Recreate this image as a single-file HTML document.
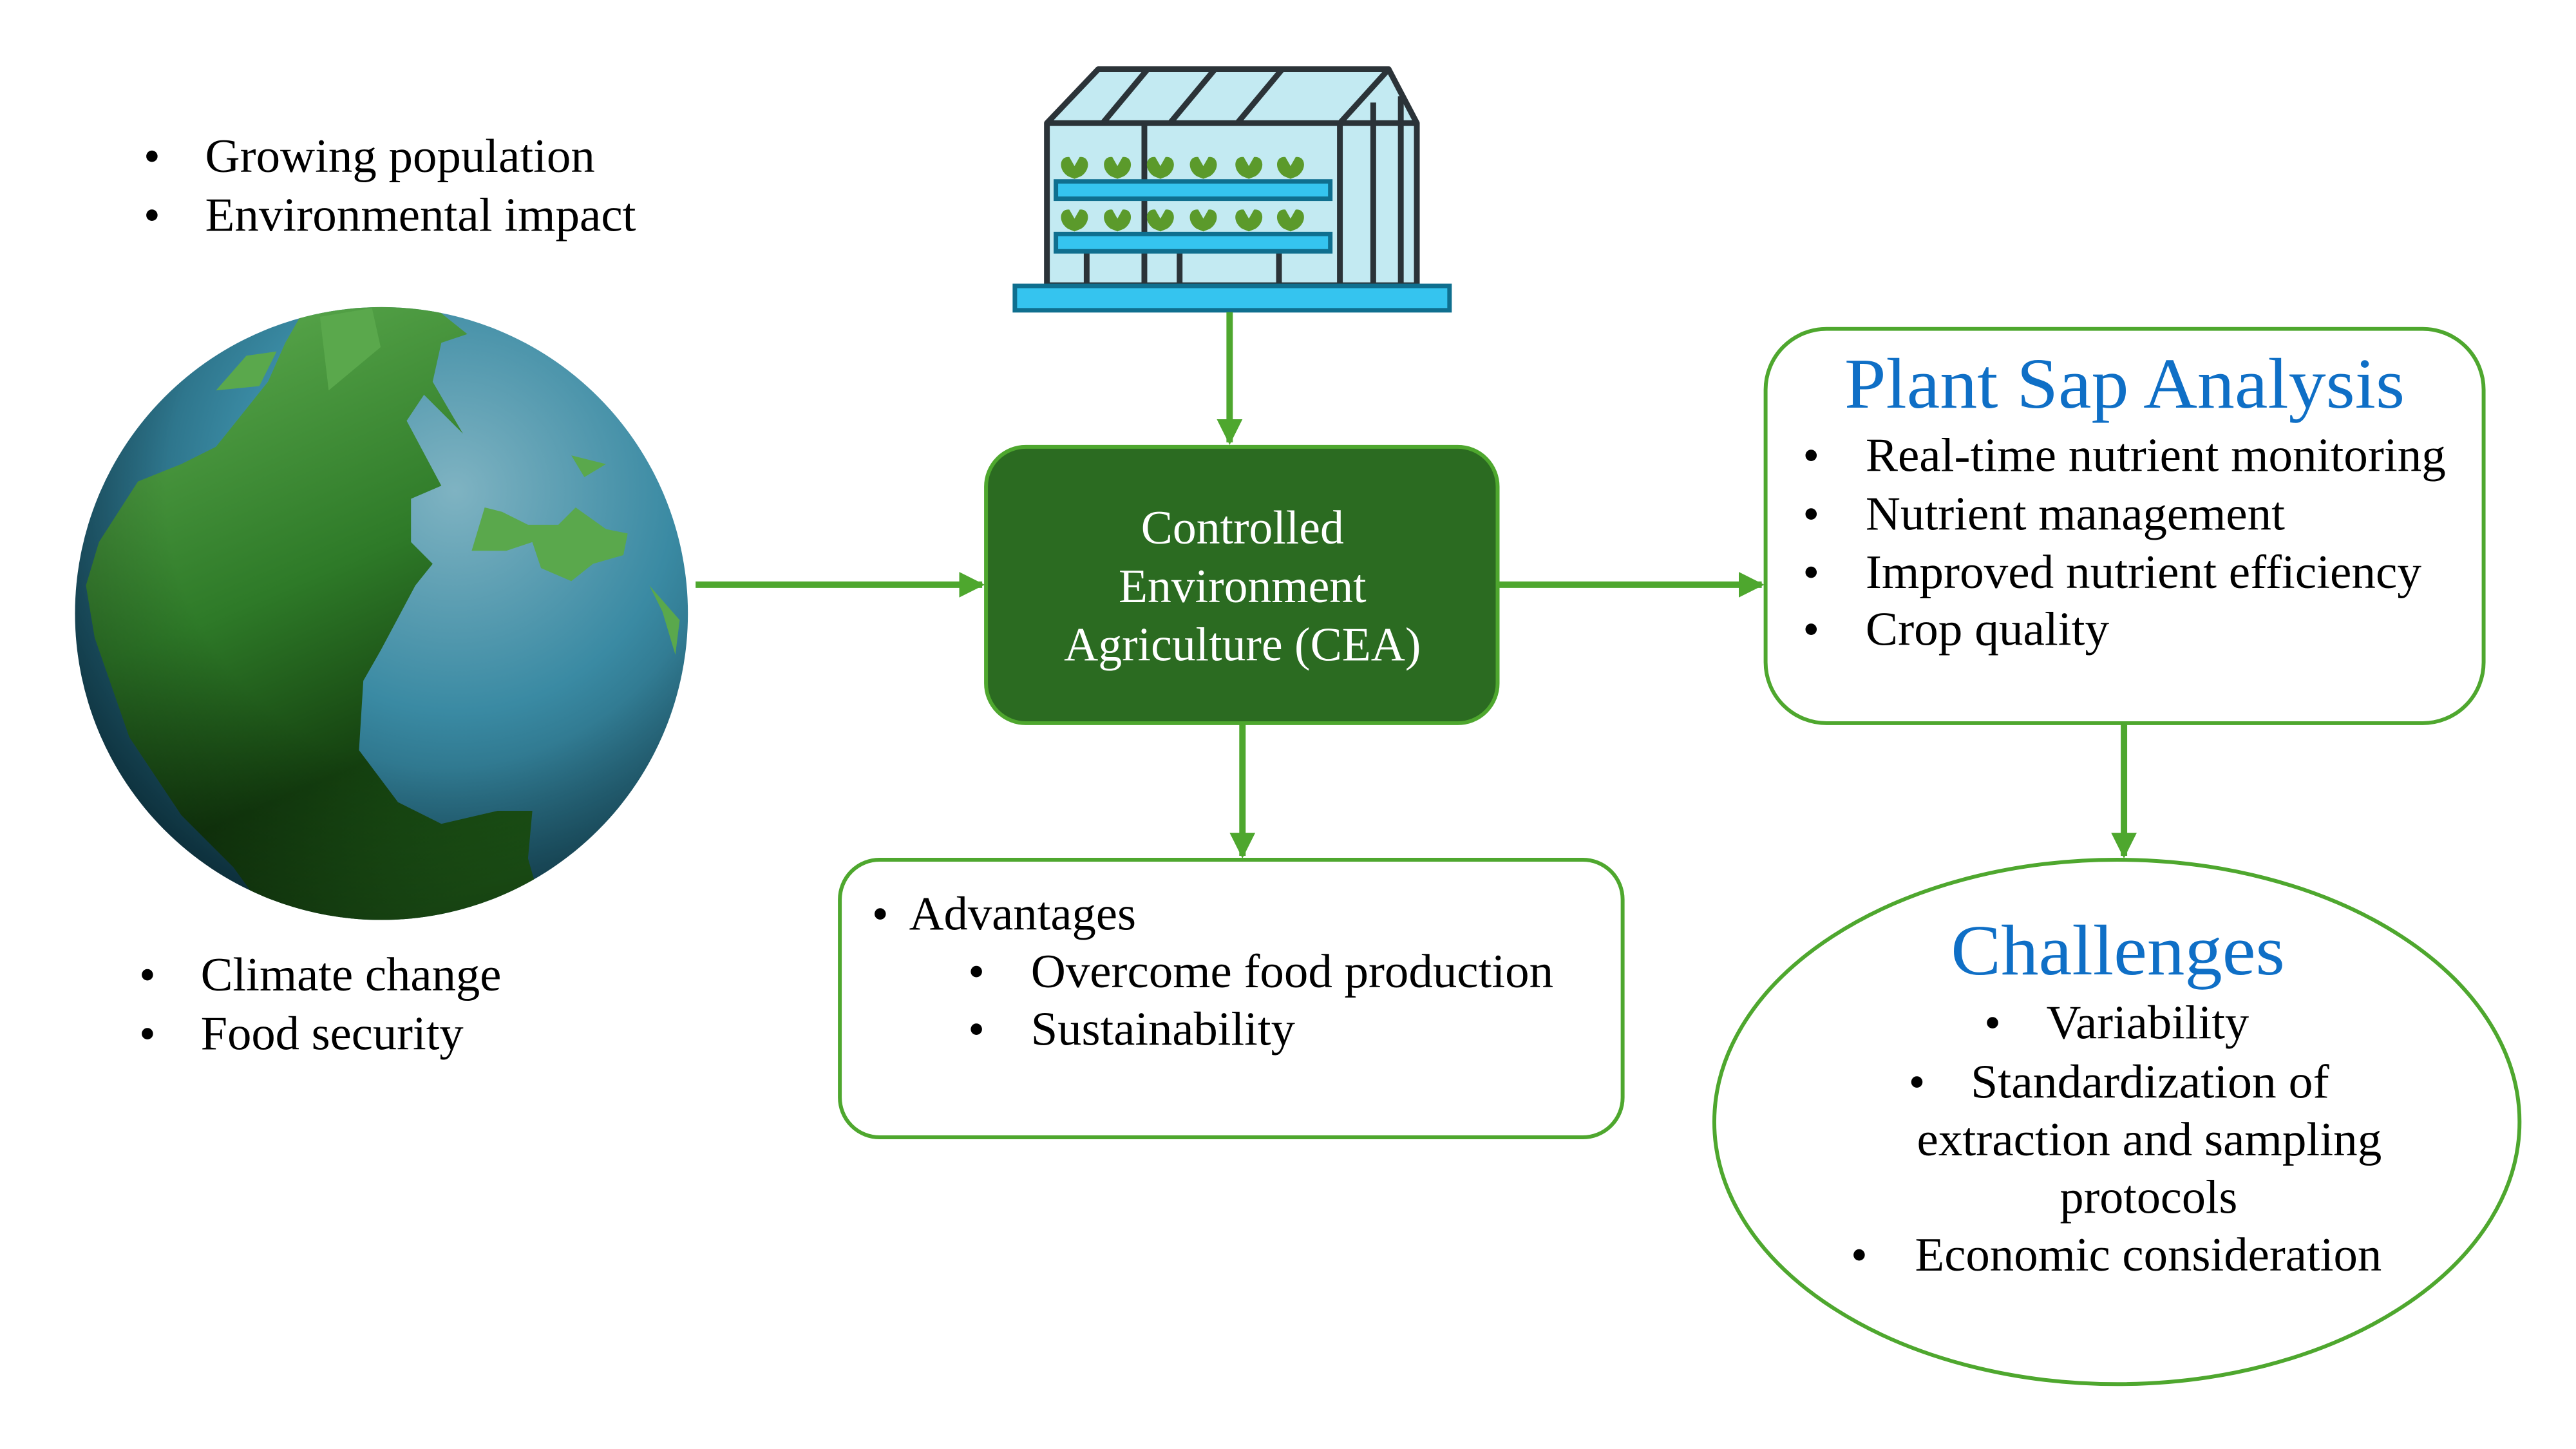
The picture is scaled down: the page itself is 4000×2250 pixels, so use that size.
<!DOCTYPE html>
<html><head><meta charset="utf-8"><style>html,body{margin:0;padding:0;background:#fff}svg{display:block}text{font-family:"Liberation Serif",serif}</style></head><body>
<svg width="4000" height="2250" viewBox="0 0 4000 2250" xmlns="http://www.w3.org/2000/svg">
<defs>
<radialGradient id="ocean" cx="0.62" cy="0.3" r="0.8"><stop offset="0" stop-color="#7fb3c2"/><stop offset="0.45" stop-color="#3a8aa3"/><stop offset="1" stop-color="#0c3a4a"/></radialGradient>
<linearGradient id="land" x1="0.3" y1="0" x2="0.6" y2="1"><stop offset="0" stop-color="#5aa84c"/><stop offset="0.45" stop-color="#2e7a28"/><stop offset="0.75" stop-color="#14400f"/><stop offset="1" stop-color="#1f5c18"/></linearGradient>
<radialGradient id="shade" cx="0.6" cy="0.3" r="0.75"><stop offset="0.6" stop-color="#000" stop-opacity="0"/><stop offset="1" stop-color="#000" stop-opacity="0.35"/></radialGradient>
<clipPath id="gc"><circle cx="595" cy="957" r="478"/></clipPath>
<marker id="ah" markerWidth="4" markerHeight="4" refX="3.6" refY="2" orient="auto" markerUnits="strokeWidth"><path d="M0,0 L4,2 L0,4 Z" fill="#4ea72e"/></marker>
</defs>
<g transform="scale(0.9955)">
<!-- globe -->
<circle cx="595" cy="957" r="478" fill="url(#ocean)"/>
<g clip-path="url(#gc)">
<g transform="translate(80,440) scale(0.676)">
<path d="M580,70 L760,40 L860,40 L960,120 L900,140 L880,230 L950,350 L860,260 L820,320 L900,470 L830,500 L830,600 L880,650 L840,700 L760,850 L720,920 L710,1080 L800,1200 L900,1250 L1030,1220 L1110,1220 L1100,1330 L1120,1400 L1000,1480 L800,1520 L500,1460 L420,1350 L300,1230 L180,1050 L100,820 L80,700 L110,600 L200,460 L300,420 L380,380 L420,330 L500,230 L540,140 Z" fill="url(#land)"/>
<path d="M380,250 L450,170 L520,160 L480,240 Z M620,80 L740,60 L760,150 L640,250 Z" fill="#5aa84c"/>
<path d="M970,620 L1000,520 L1040,530 L1100,560 L1170,560 L1210,520 L1280,570 L1330,580 L1320,630 L1250,650 L1200,690 L1130,660 L1110,600 L1050,620 Z M1200,400 L1280,420 L1230,450 Z M1380,700 L1450,780 L1440,860 L1410,760 Z" fill="#5aa84c"/>
</g>
</g>
<circle cx="595" cy="957" r="478" fill="url(#shade)"/>

<!-- left bullets -->
<g font-size="74" fill="#000">
<text x="224" y="268">•</text><text x="320" y="268" textLength="608" lengthAdjust="spacingAndGlyphs">Growing population</text>
<text x="224" y="360">•</text><text x="320" y="360" textLength="672" lengthAdjust="spacingAndGlyphs">Environmental impact</text>
<text x="217" y="1545">•</text><text x="313" y="1545" textLength="469" lengthAdjust="spacingAndGlyphs">Climate change</text>
<text x="217" y="1637">•</text><text x="313" y="1637" textLength="410" lengthAdjust="spacingAndGlyphs">Food security</text>
</g>

<!-- greenhouse -->
<g stroke="#2b3338" stroke-width="9" fill="#bfe8f0" stroke-linejoin="round">
<path d="M1633,445 L1633,192 L1713,108 L2166,108 L2210,192 L2210,445 Z" fill="#c3eaf2"/>
<line x1="1633" y1="192" x2="2210" y2="192"/>
<line x1="1790" y1="108" x2="1720" y2="192" /><line x1="1895" y1="108" x2="1825" y2="192"/><line x1="2000" y1="108" x2="1930" y2="192"/><line x1="2166" y1="108" x2="2090" y2="192"/>
<line x1="2090" y1="192" x2="2090" y2="445"/><line x1="2142" y1="160" x2="2142" y2="445"/><line x1="2185" y1="150" x2="2185" y2="445"/>
<line x1="1785" y1="192" x2="1785" y2="445"/>
<line x1="1695" y1="390" x2="1695" y2="445"/><line x1="1840" y1="390" x2="1840" y2="445"/><line x1="1995" y1="390" x2="1995" y2="445"/>
</g>
<g fill="#5b9a2b">
<path d="M1668,245 c-16,-2 -18,20 -2,30 l10,4 l10,-4 c16,-10 14,-32 -2,-30 l-8,14z"/><path d="M1735,245 c-16,-2 -18,20 -2,30 l10,4 l10,-4 c16,-10 14,-32 -2,-30 l-8,14z"/><path d="M1802,245 c-16,-2 -18,20 -2,30 l10,4 l10,-4 c16,-10 14,-32 -2,-30 l-8,14z"/><path d="M1869,245 c-16,-2 -18,20 -2,30 l10,4 l10,-4 c16,-10 14,-32 -2,-30 l-8,14z"/><path d="M1940,245 c-16,-2 -18,20 -2,30 l10,4 l10,-4 c16,-10 14,-32 -2,-30 l-8,14z"/><path d="M2005,245 c-16,-2 -18,20 -2,30 l10,4 l10,-4 c16,-10 14,-32 -2,-30 l-8,14z"/>
<path d="M1668,327 c-16,-2 -18,20 -2,30 l10,4 l10,-4 c16,-10 14,-32 -2,-30 l-8,14z"/><path d="M1735,327 c-16,-2 -18,20 -2,30 l10,4 l10,-4 c16,-10 14,-32 -2,-30 l-8,14z"/><path d="M1802,327 c-16,-2 -18,20 -2,30 l10,4 l10,-4 c16,-10 14,-32 -2,-30 l-8,14z"/><path d="M1869,327 c-16,-2 -18,20 -2,30 l10,4 l10,-4 c16,-10 14,-32 -2,-30 l-8,14z"/><path d="M1940,327 c-16,-2 -18,20 -2,30 l10,4 l10,-4 c16,-10 14,-32 -2,-30 l-8,14z"/><path d="M2005,327 c-16,-2 -18,20 -2,30 l10,4 l10,-4 c16,-10 14,-32 -2,-30 l-8,14z"/>
</g>
<g fill="#35c4ef" stroke="#0f6f8f" stroke-width="7">
<rect x="1647" y="283" width="428" height="27"/>
<rect x="1647" y="365" width="428" height="27"/>
<rect x="1583" y="446" width="678" height="38"/>
</g>

<!-- arrows -->
<g stroke="#4ea72e" stroke-width="10" fill="none" marker-end="url(#ah)">
<line x1="1918" y1="487" x2="1918" y2="690"/>
<line x1="1085" y1="912" x2="1532" y2="912"/>
<line x1="2338" y1="912" x2="2748" y2="912"/>
<line x1="1938" y1="1128" x2="1938" y2="1335"/>
<line x1="3313" y1="1128" x2="3313" y2="1335"/>
</g>

<!-- CEA -->
<rect x="1538" y="697" width="798" height="431" rx="62" fill="#2b6b21" stroke="#4ea72e" stroke-width="6"/>
<g font-size="74" fill="#fff" text-anchor="middle">
<text x="1938" y="848">Controlled</text>
<text x="1938" y="939">Environment</text>
<text x="1938" y="1030">Agriculture (CEA)</text>
</g>

<!-- PSA -->
<rect x="2754" y="513" width="1120" height="615" rx="95" fill="#fff" stroke="#4ea72e" stroke-width="6"/>
<text x="2877" y="636" font-size="112" fill="#0f6fc6" textLength="874" lengthAdjust="spacingAndGlyphs">Plant Sap Analysis</text>
<g font-size="74" fill="#000">
<text x="2812" y="735">•</text><text x="2910" y="735" textLength="905" lengthAdjust="spacingAndGlyphs">Real-time nutrient monitoring</text>
<text x="2812" y="826">•</text><text x="2910" y="826" textLength="654" lengthAdjust="spacingAndGlyphs">Nutrient management</text>
<text x="2812" y="917">•</text><text x="2910" y="917" textLength="867" lengthAdjust="spacingAndGlyphs">Improved nutrient efficiency</text>
<text x="2812" y="1006">•</text><text x="2910" y="1006" textLength="380" lengthAdjust="spacingAndGlyphs">Crop quality</text>
</g>

<!-- Advantages -->
<rect x="1310" y="1341" width="1221" height="433" rx="62" fill="#fff" stroke="#4ea72e" stroke-width="6"/>
<g font-size="74" fill="#000">
<text x="1360" y="1450">•</text><text x="1418" y="1450" textLength="354" lengthAdjust="spacingAndGlyphs">Advantages</text>
<text x="1510" y="1540">•</text><text x="1608" y="1540" textLength="815" lengthAdjust="spacingAndGlyphs">Overcome food production</text>
<text x="1510" y="1630">•</text><text x="1608" y="1630" textLength="412" lengthAdjust="spacingAndGlyphs">Sustainability</text>
</g>

<!-- Challenges -->
<ellipse cx="3302" cy="1750" rx="628" ry="409" fill="#fff" stroke="#4ea72e" stroke-width="6"/>
<text x="3043" y="1520" font-size="112" fill="#0f6fc6" textLength="521" lengthAdjust="spacingAndGlyphs">Challenges</text>
<g font-size="74" fill="#000">
<text x="3095" y="1620">•</text><text x="3192" y="1620" textLength="316" lengthAdjust="spacingAndGlyphs">Variability</text>
<text x="2977" y="1712">•</text><text x="3074" y="1712" textLength="559" lengthAdjust="spacingAndGlyphs">Standardization of</text>
<text x="2990" y="1802" textLength="725" lengthAdjust="spacingAndGlyphs">extraction and sampling</text>
<text x="3213" y="1892" textLength="277" lengthAdjust="spacingAndGlyphs">protocols</text>
<text x="2887" y="1982">•</text><text x="2987" y="1982" textLength="728" lengthAdjust="spacingAndGlyphs">Economic consideration</text>
</g>
</g>
</svg>
</body></html>
